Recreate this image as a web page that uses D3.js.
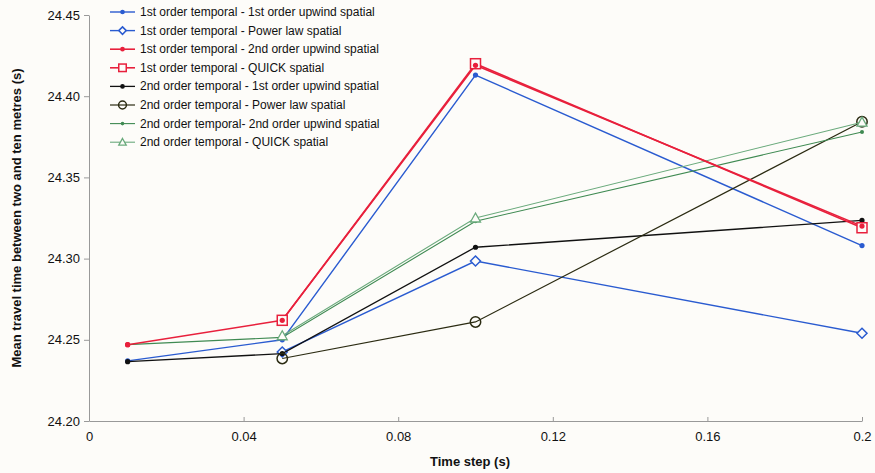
<!DOCTYPE html>
<html><head><meta charset="utf-8">
<script src="https://cdn.jsdelivr.net/npm/d3@7"></script>
<style>
body{margin:0;background:#fdfcf9;}
svg{display:block;font-family:"Liberation Sans",Arial,sans-serif;}
</style></head><body>
<svg id="c" width="875" height="473"></svg>
<script>
const timeSteps = [0.01, 0.05, 0.1, 0.2];
const seriesNames = [
  "1st order temporal - 1st order upwind spatial",
  "1st order temporal - Power law spatial",
  "1st order temporal - 2nd order upwind spatial",
  "1st order temporal - QUICK spatial",
  "2nd order temporal - 1st order upwind spatial",
  "2nd order temporal - Power law spatial",
  "2nd order temporal- 2nd order upwind spatial",
  "2nd order temporal - QUICK spatial"
];
const s1 = [24.237, 24.250, 24.413, 24.308];
const s2 = [null, 24.2425, 24.2985, 24.254];
const s3 = [24.247, 24.262, 24.419, 24.320];
const s4 = [null, 24.262, 24.420, 24.319];
const s5 = [24.2365, 24.2415, 24.307, 24.3235];
const s6 = [null, 24.2385, 24.261, 24.3843];
const s7 = [24.247, 24.2515, 24.323, 24.378];
const s8 = [null, 24.2525, 24.325, 24.384];
const xTicks = [0, 0.04, 0.08, 0.12, 0.16, 0.2];
const yTicks = [24.20, 24.25, 24.30, 24.35, 24.40, 24.45];

const allSeries = [s1,s2,s3,s4,s5,s6,s7,s8];
const styles = [
  {color:"#2a5bd0", marker:"dot", w:1.4},
  {color:"#2a5bd0", marker:"diamond", w:1.4},
  {color:"#e8203c", marker:"dot", w:1.6},
  {color:"#e8203c", marker:"square", w:1.6},
  {color:"#111111", marker:"dot", w:1.3},
  {color:"#2b2b12", marker:"circle", w:1.2},
  {color:"#3f8a52", marker:"sdot", w:1.1},
  {color:"#6aaa7c", marker:"triangle", w:1.1}
];

const svg = d3.select("#c");
const x = d3.scaleLinear().domain([0, 0.2]).range([89, 862]);
const y = d3.scaleLinear().domain([24.20, 24.45]).range([421, 15]);

const xAxis = svg.append("g").attr("transform","translate(0,421)")
  .call(d3.axisBottom(x).tickValues(xTicks).tickSizeInner(-4).tickSizeOuter(0)
        .tickFormat(d => d===0 ? "0" : String(+d.toFixed(2))));
xAxis.select(".domain").attr("stroke","#999");
xAxis.selectAll(".tick line").attr("stroke","#999");
xAxis.selectAll("text").attr("font-size",13).attr("fill","#111").attr("dy","1.3em");

const yAxis = svg.append("g").attr("transform","translate(89,0)")
  .call(d3.axisLeft(y).tickValues(yTicks).tickSizeInner(5).tickSizeOuter(0).tickFormat(d3.format(".2f")));
yAxis.select(".domain").attr("stroke","#999");
yAxis.selectAll(".tick line").attr("stroke","#999");
yAxis.selectAll("text").attr("font-size",13).attr("fill","#111").attr("x",-9);

svg.append("text").attr("x",470).attr("y",466).attr("text-anchor","middle")
  .attr("font-size",13).attr("font-weight","bold").attr("fill","#111").text("Time step (s)");
svg.append("text").attr("transform","translate(21,218) rotate(-90)").attr("text-anchor","middle")
  .attr("font-size",13).attr("font-weight","bold").attr("fill","#111")
  .text("Mean travel time between two and ten metres (s)");

const line = d3.line().defined(d=>d!==null).x((d,i)=>x(timeSteps[i])).y(d=>y(d));

function drawMarker(g, type, color, cx, cy, s){
  s = s || 1;
  if(type==="dot") g.append("circle").attr("cx",cx).attr("cy",cy).attr("r",2.6*Math.min(1,s+0.15)).attr("fill",color);
  else if(type==="sdot") g.append("circle").attr("cx",cx).attr("cy",cy).attr("r",2*Math.min(1,s+0.15)).attr("fill",color);
  else if(type==="diamond") g.append("path").attr("d",`M${cx},${cy-5*s}L${cx+5*s},${cy}L${cx},${cy+5*s}L${cx-5*s},${cy}Z`)
      .attr("fill","#fdfcf9").attr("stroke",color).attr("stroke-width",1.5);
  else if(type==="square") g.append("rect").attr("x",cx-5*s).attr("y",cy-5*s).attr("width",10*s).attr("height",10*s)
      .attr("fill","#fdfcf9").attr("stroke",color).attr("stroke-width",1.5);
  else if(type==="circle") g.append("circle").attr("cx",cx).attr("cy",cy).attr("r",5.2*s)
      .attr("fill","none").attr("stroke",color).attr("stroke-width",1.5);
  else if(type==="triangle") g.append("path").attr("d",`M${cx},${cy-5*s}L${cx+5*s},${cy+4*s}L${cx-5*s},${cy+4*s}Z`)
      .attr("fill","#fdfcf9").attr("stroke",color).attr("stroke-width",1.3);
}

const order = [0,1,4,5,6,7,2,3];
order.forEach(k=>{
  const st = styles[k];
  const g = svg.append("g");
  g.append("path").datum(allSeries[k]).attr("d",line).attr("fill","none")
    .attr("stroke",st.color).attr("stroke-width",st.w);
  allSeries[k].forEach((v,i)=>{ if(v!==null) drawMarker(g, st.marker, st.color, x(timeSteps[i]), y(v)); });
  if(k===3) allSeries[2].forEach((v,i)=>{ if(v!==null) drawMarker(g, "dot", styles[2].color, x(timeSteps[i]), y(v)); });
});

const lg = svg.append("g");
seriesNames.forEach((name,i)=>{
  const st = styles[i];
  const ly = 12 + i*18.6;
  lg.append("line").attr("x1",110).attr("x2",135).attr("y1",ly).attr("y2",ly)
    .attr("stroke",st.color).attr("stroke-width",st.w);
  drawMarker(lg, st.marker, st.color, 122.5, ly, 0.75);
  lg.append("text").attr("x",140).attr("y",ly+4).attr("font-size",12).attr("fill","#111").text(name);
});
</script>
</body></html>
